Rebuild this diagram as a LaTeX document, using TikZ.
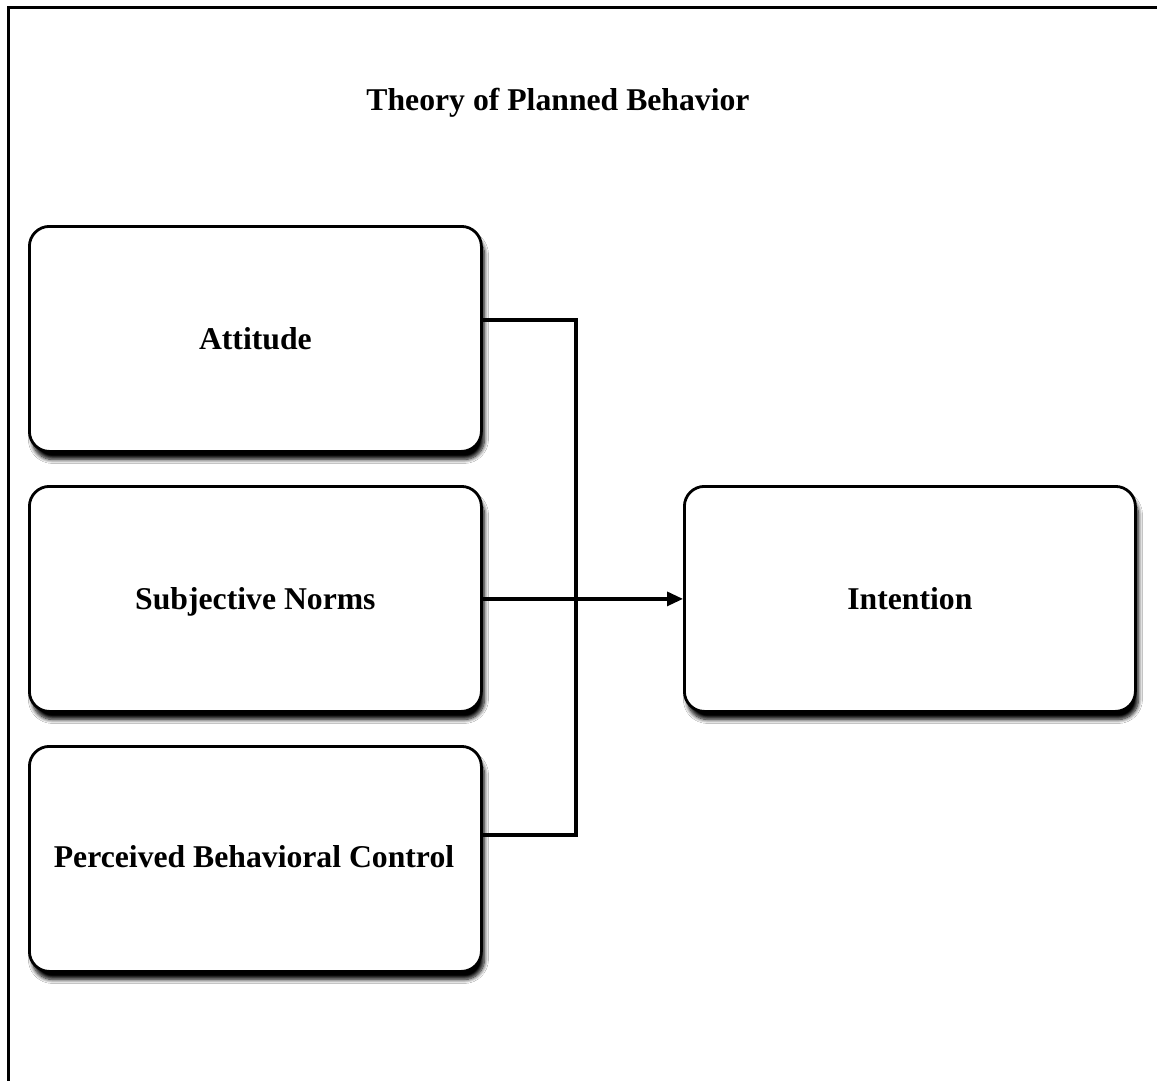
\documentclass[tikz,border=0pt]{standalone}
\usepackage{fontspec}
\setmainfont{Liberation Serif}
\usetikzlibrary{shadows.blur,arrows.meta}
\begin{document}
\begin{tikzpicture}[x=1pt,y=-1pt,
  box/.style={draw=black,line width=2.8pt,rounded corners=20pt,fill=white,
    blur shadow={shadow xshift=3pt,shadow yshift=-8pt,shadow blur radius=4pt,shadow blur steps=8,shadow opacity=100},
    minimum width=452pt,minimum height=225pt,inner sep=0pt,anchor=north west,
    text height=22pt,text depth=1pt,
    font=\fontsize{31.7}{36}\selectfont\bfseries},
  conn/.style={line width=3.2pt}]
\useasboundingbox (0,0) rectangle (1157,1080);
\fill[white] (0,0) rectangle (1157,1080);
\draw[line width=3pt] (8,1082) -- (8,7) -- (1159,7);
\node[font=\fontsize{31.7}{36}\selectfont\bfseries,text height=22pt,text depth=1pt] (title) at (558,100) {Theory of Planned Behavior};
\node[box] (att) at (28,225) {Attitude};
\node[box] (sn) at (28,485) {Subjective Norms};
\node[box] (pbc) at (28,745) {};
\node[font=\fontsize{31.7}{36}\selectfont\bfseries,text height=22pt,text depth=1pt] (pbct) at (254,857) {Perceived Behavioral Control};
\node[box,minimum width=451pt] (int) at (683,485) {Intention};
\coordinate (j1) at (576,320);
\coordinate (j2) at (576,835);
\draw[conn] (att.east |- j1) -- (j1) -- (j2) -- (pbc.east |- j2);
\draw[conn,-{Triangle[length=16pt,width=14pt]}] (sn.east) -- (int.west);
\end{tikzpicture}
\end{document}
